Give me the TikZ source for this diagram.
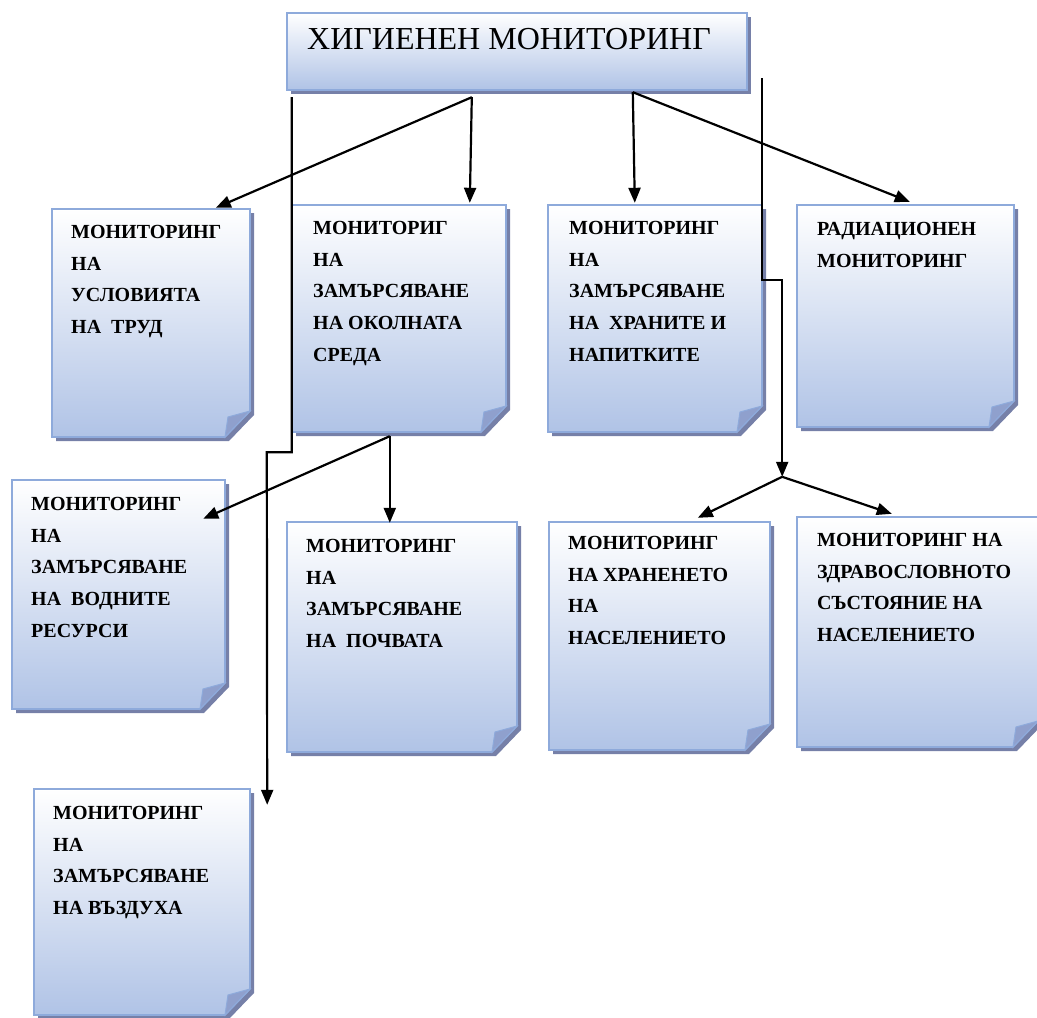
\documentclass[tikz,border=0pt]{standalone}
\usepackage{fontspec}
\setmainfont{Liberation Serif}
\usetikzlibrary{arrows.meta,calc,fit}
\definecolor{cardblue}{RGB}{176,195,230}
\definecolor{cardedge}{RGB}{142,170,219}
\definecolor{cardshade}{RGB}{118,128,168}
\definecolor{cardfoldc}{RGB}{143,160,205}
\begin{document}
\begin{tikzpicture}[x=1pt, y=-1pt,
  cardbody/.style={draw=cardedge, line width=1.6pt, top color=white, bottom color=cardblue},
  cardshadow/.style={fill=cardshade},
  cardfold/.style={fill=cardfoldc, draw=cardedge, line width=1pt},
  cardframe/.style={inner sep=0pt, draw=none},
  cardtext/.style={anchor=north west, inner sep=0pt, align=left, font=\bfseries\fontsize{20}{31.7}\selectfont},
  link/.style={line width=2.2pt, -{Triangle[length=15pt,width=12pt]}}]
  \useasboundingbox (0,0) rectangle (1037,1018);
  % title
  \fill[cardshadow] (291,17) rectangle (751,94);
  \shadedraw[cardbody] (287,13) rectangle (747,90);
  \node[cardframe, fit={(287,13) (747,90)}] (root) {};
  \node[anchor=north west, inner sep=0pt, font=\fontsize{32}{40}\selectfont] (roottxt) at (307,28) {ХИГИЕНЕН МОНИТОРИНГ};
  % cards
  \foreach \nm/\xa/\ya/\xb/\yb/\tx/\ty/\txt in {
    trud/52/209/250/437/71/225/{МОНИТОРИНГ\\НА\\УСЛОВИЯТА\\НА~~ТРУД},
    sreda/292/205/506/432/313/221/{МОНИТОРИГ\\НА\\ЗАМЪРСЯВАНЕ\\НА ОКОЛНАТА\\СРЕДА},
    hrani/548/205/762/432/569/221/{МОНИТОРИНГ\\НА\\ЗАМЪРСЯВАНЕ\\НА~~ХРАНИТЕ И\\НАПИТКИТЕ},
    radio/797/205/1014/427/817/222/{РАДИАЦИОНЕН\\МОНИТОРИНГ},
    voda/12/480/225/709/31/497/{МОНИТОРИНГ\\НА\\ЗАМЪРСЯВАНЕ\\НА~~ВОДНИТЕ\\РЕСУРСИ},
    pochva/287/522/517/752/306/539/{МОНИТОРИНГ\\НА\\ЗАМЪРСЯВАНЕ\\НА~~ПОЧВАТА},
    hranene/549/522/770/750/568/536/{МОНИТОРИНГ\\НА ХРАНЕНЕТО\\НА\\НАСЕЛЕНИЕТО},
    zdrave/797/517/1038/747/817/533/{МОНИТОРИНГ НА\\ЗДРАВОСЛОВНОТО\\СЪСТОЯНИЕ НА\\НАСЕЛЕНИЕТО},
    vazduh/34/789/250/1015/53/806/{МОНИТОРИНГ\\НА\\ЗАМЪРСЯВАНЕ\\НА ВЪЗДУХА}}{
    \fill[cardshadow] (\xa+4,\ya+4) -- (\xb+4,\ya+4) -- (\xb+4,\yb-22) -- (\xb-21,\yb+4) -- (\xa+4,\yb+4) -- cycle;
    \shadedraw[cardbody] (\xa,\ya) -- (\xb,\ya) -- (\xb,\yb-26) -- (\xb-25,\yb) -- (\xa,\yb) -- cycle;
    \filldraw[cardfold] (\xb,\yb-26) -- (\xb-22,\yb-20) -- (\xb-25,\yb) -- cycle;
    \node[cardframe, fit={(\xa,\ya) (\xb,\yb)}] (\nm) {};
    \node[cardtext] (\nm-txt) at (\tx,\ty) {\txt};
  }
  % connectors
  \coordinate (fromL) at ($(root.south west)+(185,7)$);
  \coordinate (fromR) at ($(root.south west)+(346,2)$);
  \coordinate (topL) at ($(root.south west)+(5,7)$);
  \coordinate (topR) at ($(root.south east)+(15,-12)$);
  \coordinate (bendL) at ($(sreda.south west)+(-25,20)$);
  \coordinate (bendR) at ($(hrani.north east)+(20,75)$);
  \coordinate (forkS) at ($(sreda.south west)+(98,4)$);
  \coordinate (forkN) at ($(hranene.north east)+(12,-45)$);
  \draw[link] (fromL) -- ($(trud.north west)+(164,-1)$);
  \draw[link] (fromL) -- ($(sreda.north west)+(178,-2)$);
  \draw[link] (fromR) -- ($(hrani.north west)+(87,-2)$);
  \draw[link] (fromR) -- ($(radio.north west)+(113,-3)$);
  \draw[link] (topL) |- (bendL) -- ($(vazduh.north east)+(17,16)$);
  \draw[link] (topR) |- (bendR) -- (forkN);
  \draw[link] (forkS) -- ($(voda.north east)+(-22,39)$);
  \draw[link] (forkS) -- ($(pochva.north west)+(103,1)$);
  \draw[link] (forkN) -- ($(hranene.north west)+(149,-4)$);
  \draw[link] (forkN) -- ($(zdrave.north west)+(95,-3)$);
\end{tikzpicture}
\end{document}
